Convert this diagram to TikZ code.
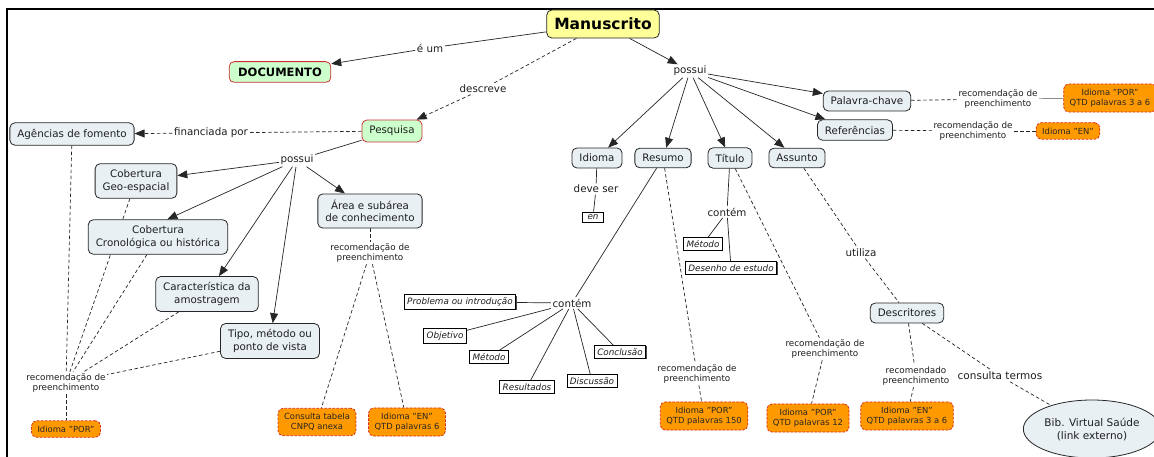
\documentclass[tikz,border=0pt]{standalone}
\usepackage{fontspec}
\setmainfont{DejaVu Sans}
\usetikzlibrary{arrows.meta,shapes.geometric,calc,shadows}

\definecolor{conceptfill}{RGB}{233,240,244}
\definecolor{greenfill}{RGB}{204,255,204}
\definecolor{redline}{RGB}{204,51,51}
\definecolor{yellowfill}{RGB}{255,255,153}
\definecolor{orangefill}{RGB}{255,153,0}
\definecolor{orangeline}{RGB}{220,40,20}
\definecolor{ink}{RGB}{30,30,30}

\pgfdeclarelayer{paper}
\pgfdeclarelayer{links}
\pgfsetlayers{paper,links,main}

\tikzset{
  conceptbox/.style={draw=black!85, line width=0.8pt, rounded corners=5pt,
    fill=conceptfill, align=center, text=ink,
    font=\fontsize{10.3}{12.5}\selectfont, inner xsep=7.5pt, inner ysep=6pt},
  keybox/.style={conceptbox, fill=greenfill, draw=redline},
  rootbox/.style={conceptbox, fill=yellowfill, text=black,
    font=\fontsize{15.5}{18}\selectfont\bfseries, minimum height=28pt, inner ysep=3pt},
  notebox/.style={draw=orangeline, line width=0.8pt, dash pattern=on 2.5pt off 1.5pt,
    fill=orangefill, rounded corners=5pt, align=center, text=black!85,
    font=\fontsize{8.4}{10}\selectfont, inner xsep=6pt, inner ysep=5pt},
  itembox/.style={draw=black, line width=0.7pt, fill=white, text=ink,
    font=\fontsize{8.8}{10}\selectfont\itshape, inner xsep=3pt, inner ysep=3pt,
    drop shadow={shadow xshift=0.9pt, shadow yshift=-0.9pt, fill=black!70, opacity=1}},
  linklabel/.style={text=ink, font=\fontsize{10.3}{12}\selectfont, inner sep=1.5pt, align=center},
  smalllabel/.style={text=ink, font=\fontsize{8.8}{10.5}\selectfont, inner sep=1.5pt, align=center},
  conn/.style={line width=0.7pt, draw=black!85},
  dconn/.style={conn, dash pattern=on 3.5pt off 2.5pt},
  arr/.style={-{Triangle[length=10pt,width=8pt]}},
}

\begin{document}
\begin{tikzpicture}[x=1pt,y=-1pt]
\useasboundingbox (0,0) rectangle (1154,457);
\begin{pgfonlayer}{paper}
  \fill[white] (0,0) rectangle (1154,457);
\end{pgfonlayer}
\draw[line width=1.6pt] (7,470) -- (7,9) -- (1170,9);

% --- top level ---
\node[rootbox] (root) at (603,24) {Manuscrito};
\node[keybox, font=\fontsize{11.5}{13}\selectfont\bfseries, text=black, inner xsep=9pt] (doc) at (280,72) {DOCUMENTO};
\node[keybox] (pesq) at (392,131) {Pesquisa};
\node[linklabel] (eum) at (430,48) {é um};
\node[linklabel] (lkdescreve) at (483,89) {descreve};
\node[linklabel] (possA) at (690,71) {possui};

% --- manuscript parts ---
\node[conceptbox] (idioma) at (597,158) {Idioma};
\node[conceptbox] (resumo) at (663,158) {Resumo};
\node[conceptbox] (titulo) at (730,158) {Título};
\node[conceptbox] (assunto) at (797,158) {Assunto};
\node[conceptbox] (palavra) at (867,101) {Palavra-chave};
\node[conceptbox] (refs) at (855,130) {Referências};

\node[smalllabel] (recP) at (998,99) {recomendação de\\preenchimento};
\node[notebox] (noteP) at (1110,98) {Idioma "POR"\\QTD palavras 3 a 6};
\node[smalllabel] (recR) at (973,131) {recomendação de\\preenchimento};
\node[notebox] (noteR) at (1068,131) {Idioma "EN"};

\node[linklabel] (deve) at (596,189) {deve ser};
\node[itembox, inner xsep=5pt, inner ysep=2.5pt] (en) at (593,217) {en};

\node[linklabel] (contR) at (572,303) {contém};
\node[itembox] (prob) at (460,302) {Problema ou introdução};
\node[itembox] (obj) at (445,336) {Objetivo};
\node[itembox] (metR) at (489,357) {Método};
\node[itembox] (resu) at (527,387) {Resultados};
\node[itembox] (disc) at (592,381) {Discussão};
\node[itembox] (conc) at (620,352) {Conclusão};
\node[smalllabel] (recRes) at (697,374) {recomendação de\\preenchimento};
\node[notebox] (noteRes) at (704,416) {Idioma "POR"\\QTD palavras 150};

\node[linklabel] (contT) at (727,212) {contém};
\node[itembox] (metT) at (703,244) {Método};
\node[itembox] (desenho) at (731,268) {Desenho de estudo};
\node[smalllabel] (recT) at (825,349) {recomendação de\\preenchimento};
\node[notebox] (noteT) at (808,418) {Idioma "POR"\\QTD palavras 12};

\node[linklabel] (utiliza) at (861,253) {utiliza};
\node[conceptbox] (descritores) at (907,313) {Descritores};
\node[smalllabel] (recD) at (916,376) {recomendado\\preenchimento};
\node[notebox] (noteD) at (907,416) {Idioma "EN"\\QTD palavras 3 a 6};
\node[linklabel, font=\fontsize{10.5}{12}\selectfont] (consulta) at (1000,376) {consulta termos};
\node[ellipse, draw=black!85, line width=0.8pt, fill=conceptfill, text=ink, align=center,
      font=\fontsize{10.5}{13}\selectfont, minimum width=118pt, minimum height=58pt, inner sep=1pt]
      (bib) at (1092,429) {Bib. Virtual Saúde\\(link externo)};

% --- research branch ---
\node[conceptbox] (agencias) at (72,134) {Agências de fomento};
\node[linklabel] (financ) at (211,133) {financiada por};
\node[linklabel] (possB) at (297,160) {possui};
\node[conceptbox] (geo) at (136,181) {Cobertura\\Geo-espacial};
\node[conceptbox] (crono) at (158,237) {Cobertura\\Cronológica ou histórica};
\node[conceptbox] (caract) at (207,294) {Característica da\\amostragem};
\node[conceptbox] (tipo) at (270,341) {Tipo, método ou\\ponto de vista};
\node[conceptbox] (area) at (370,211) {Área e subárea\\de conhecimento};
\node[smalllabel] (recA) at (370,253) {recomendação de\\preenchimento};
\node[notebox] (noteCnpq) at (317,422) {Consulta tabela\\CNPQ anexa};
\node[notebox] (noteEN6) at (407,422) {Idioma "EN"\\QTD palavras 6};
\node[smalllabel] (recL) at (66,383) {recomendação de\\preenchimento};
\node[notebox] (notePOR) at (66,429) {Idioma "POR"};

\begin{pgfonlayer}{links}
  % top level
  \draw[conn] (root) -- (eum);
  \draw[conn,arr] (eum) -- (doc);
  \draw[dconn] (root) -- (lkdescreve);
  \draw[dconn,arr] (lkdescreve) -- (pesq);
  \draw[conn,arr] (root) -- (possA);
  \foreach \n in {idioma,resumo,titulo,assunto,palavra,refs}
    \draw[conn,arr] (possA) -- (\n);

  % keywords and references
  \draw[dconn] (palavra) -- (recP);
  \draw[conn,draw=black!45] (recP) -- (noteP);
  \draw[dconn] (refs) -- (recR);
  \draw[dconn] (recR) -- (noteR);

  % language
  \draw[conn] (idioma) -- (deve);
  \draw[conn] (deve) -- (en);

  % abstract
  \draw[conn] (resumo) -- (contR);
  \foreach \n in {prob,obj,metR,resu,disc,conc}
    \draw[conn] (contR) -- (\n);
  \draw[dconn] (resumo) -- (recRes);
  \draw[dconn] (recRes) -- (noteRes);

  % title
  \draw[conn] (titulo) -- (contT);
  \draw[conn] (contT) -- (metT);
  \draw[conn] (contT) -- (desenho);
  \draw[dconn] (titulo) -- (recT);
  \draw[dconn] (recT) -- (noteT);

  % subject
  \draw[dconn] (assunto) -- (utiliza);
  \draw[dconn] (utiliza) -- (descritores);
  \draw[dconn] (descritores) -- (recD);
  \draw[dconn] (recD) -- (noteD);
  \draw[dconn] (descritores) -- (consulta);
  \draw[dconn] (consulta) -- (bib);

  % research
  \draw[dconn] (pesq) -- (financ);
  \draw[dconn,arr] (financ) -- (agencias);
  \draw[conn] (pesq) -- (possB);
  \draw[conn,arr] (possB) -- (geo);
  \draw[conn,arr] (possB) -- (crono.62);
  \draw[conn,arr] (possB) -- (caract);
  \draw[conn,arr] (possB) -- (tipo);
  \draw[conn,arr] (possB) -- (area);
  \draw[dconn] (area) -- (recA);
  \draw[dconn] (recA) -- (noteCnpq);
  \draw[dconn] (recA) -- (noteEN6);
  \foreach \n in {agencias,geo,crono,caract,tipo}
    \draw[dconn] (\n) -- (recL);
  \draw[dconn] (recL) -- (notePOR);
\end{pgfonlayer}
\end{tikzpicture}
\end{document}
